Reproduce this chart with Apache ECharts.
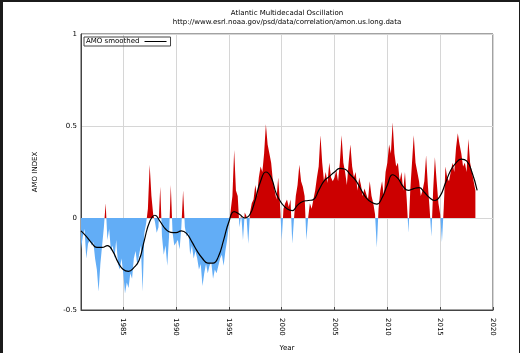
<!DOCTYPE html>
<html>
<head>
<meta charset="utf-8">
<script src="https://cdn.jsdelivr.net/npm/echarts@6/dist/echarts.min.js"></script>
<style>
html, body { margin: 0; padding: 0; background: #fff; }
#chart1 { width: 520px; height: 353px; }
#frame { position: absolute; left: 0; top: 0; width: 516px; height: 351px; border-left: 3px solid #1b1b1b; border-top: 2px solid #1b1b1b; border-right: 1px solid #1b1b1b; pointer-events: none; }
</style>
</head>
<body>
<div id="chart1"></div>
<div id="frame"></div>
<script>
// AMO index every two months (one row per year)
var rawStart = 1981, rawStep = 1 / 6;
var rawAmo = [
    -0.17, -0.10, -0.06, -0.22, -0.14, -0.12,   // 1981
    -0.15, -0.13, -0.22, -0.28, -0.40, -0.25,
    -0.15, -0.05, 0.08, -0.12, -0.06, -0.18,
    -0.15, -0.22, -0.12, -0.25, -0.28, -0.22,
    -0.30, -0.41, -0.35, -0.38, -0.30, -0.33,   // 1985
    -0.22, -0.18, -0.26, -0.20, -0.15, -0.40,
    -0.08, -0.03, 0.05, 0.29, 0.12, 0.02,
    -0.02, -0.08, -0.05, 0.17, -0.10, -0.20,
    -0.15, -0.26, -0.10, 0.18, -0.08, -0.15,
    -0.16, -0.12, -0.17, -0.05, 0.15, -0.05,    // 1990
    -0.10, -0.08, -0.20, -0.15, -0.22, -0.18,
    -0.22, -0.28, -0.25, -0.37, -0.30, -0.25,
    -0.30, -0.26, -0.24, -0.33, -0.28, -0.30,
    -0.30, -0.22, -0.20, -0.26, -0.18, -0.12,
    -0.04, 0.04, 0.12, 0.37, 0.15, 0.12,        // 1995
    -0.05, 0.02, -0.12, 0.03, 0.01, -0.14,
    0.03, 0.08, 0.10, 0.18, 0.12, 0.22,
    0.28, 0.25, 0.35, 0.51, 0.40, 0.35,
    0.30, 0.20, 0.15, 0.10, 0.22, 0.08,
    -0.12, 0.05, 0.08, 0.10, 0.06, 0.10,        // 2000
    -0.14, 0.00, 0.12, 0.18, 0.29, 0.20,
    0.17, 0.12, -0.12, 0.00, 0.08, 0.05,
    0.10, 0.15, 0.22, 0.28, 0.45, 0.30,
    0.20, 0.25, 0.19, 0.30, 0.22, 0.20,
    0.22, 0.26, 0.20, 0.30, 0.45, 0.30,         // 2005
    0.25, 0.18, 0.30, 0.40, 0.28, 0.22,
    0.25, 0.15, 0.22, 0.18, 0.12, 0.16,
    0.15, 0.10, 0.20, 0.12, 0.08, 0.02,
    -0.16, 0.05, 0.15, 0.20, 0.12, 0.25,
    0.30, 0.40, 0.35, 0.52, 0.35, 0.28,         // 2010
    0.30, 0.20, 0.25, 0.15, 0.25, 0.10,
    -0.08, 0.15, 0.30, 0.45, 0.30, 0.25,
    0.20, 0.12, 0.15, 0.20, 0.34, 0.18,
    0.05, -0.10, 0.15, 0.33, 0.20, 0.08,
    0.02, -0.13, 0.05, 0.28, 0.22, 0.20,        // 2015
    0.20, 0.30, 0.25, 0.38, 0.46, 0.40,
    0.35, 0.28, 0.30, 0.25, 0.43, 0.30,
    0.25, 0.20, 0.15
];

// smoothed curve, half-yearly
var smoothStart = 1981, smoothStep = 0.5;
var smoothAmo = [
    -0.07, -0.10, -0.135, -0.16, -0.16, -0.15, -0.18, -0.24,
    -0.28, -0.29, -0.27, -0.23, -0.12, -0.02, 0.015, -0.02,
    -0.06, -0.078, -0.08, -0.07, -0.085, -0.13, -0.18, -0.22,
    -0.245, -0.245, -0.21, -0.12, -0.02, 0.035, 0.02, 0.0,
    0.02, 0.10, 0.20, 0.25, 0.22, 0.13, 0.08, 0.05,
    0.04, 0.07, 0.09, 0.095, 0.10, 0.15, 0.20, 0.225,
    0.25, 0.27, 0.265, 0.235, 0.205, 0.155, 0.11, 0.085,
    0.075, 0.11, 0.18, 0.235, 0.215, 0.17, 0.15, 0.16,
    0.165, 0.14, 0.11, 0.095, 0.12, 0.19, 0.26, 0.30,
    0.32, 0.31, 0.25, 0.15
];

var yearTicks = [1985, 1990, 1995, 2000, 2005, 2010, 2015, 2020];

function pairs(start, step, values) {
    return values.map(function (v, i) { return [start + i * step, v]; });
}

var txt = { fontFamily: 'DejaVu Sans', fontSize: 7, color: '#000' };
var myChart1 = echarts.init(document.getElementById('chart1'));

myChart1.setOption({
    animation: false,
    title: {
        text: 'Atlantic Multidecadal Oscillation',
        subtext: 'http://www.esrl.noaa.gov/psd/data/correlation/amon.us.long.data',
        left: 287,
        textAlign: 'center',
        top: 10,
        itemGap: 2,
        padding: 0,
        textStyle: { fontFamily: 'DejaVu Sans', fontSize: 7, fontWeight: 'normal', color: '#000' },
        subtextStyle: { fontFamily: 'DejaVu Sans', fontSize: 7, color: '#000' }
    },
    legend: {
        data: [{ name: 'AMO smoothed', icon: 'rect', itemStyle: { color: '#000' } }],
        left: 84,
        top: 37,
        align: 'right',
        padding: [1, 4, 1, 2],
        itemWidth: 22,
        itemHeight: 1,
        borderColor: '#444',
        borderWidth: 1,
        borderRadius: 0,
        textStyle: txt
    },
    grid: {
        left: 81, right: 27, top: 34, bottom: 43,
        outerBoundsMode: 'none',
        containLabel: false,
        show: true, borderColor: '#444', borderWidth: 1
    },
    visualMap: {
        show: false,
        seriesIndex: 0,
        dimension: 1,
        pieces: [
            { min: -2, max: 0, color: '#62adf6' },
            { min: 0, max: 2, color: '#cc0000' }
        ]
    },
    xAxis: {
        type: 'value',
        min: 1981,
        max: 2020,
        name: 'Year',
        nameLocation: 'middle',
        nameGap: 35,
        nameTextStyle: txt,
        axisLine: { onZero: false, lineStyle: { color: '#444' } },
        axisTick: { inside: true, length: 3, customValues: yearTicks, lineStyle: { color: '#444' } },
        axisLabel: {
            customValues: yearTicks,
            rotate: -90,
            margin: 8,
            formatter: function (v) { return String(v); },
            fontFamily: 'DejaVu Sans', fontSize: 7, color: '#000'
        },
        splitLine: { show: true, lineStyle: { color: '#d6d6d6', width: 1 } }
    },
    yAxis: {
        type: 'value',
        min: -0.5,
        max: 1,
        interval: 0.5,
        name: 'AMO INDEX',
        nameLocation: 'middle',
        nameGap: 42,
        nameTextStyle: txt,
        axisLine: { show: true, lineStyle: { color: '#444' } },
        axisTick: { show: false },
        axisLabel: { margin: 4, fontFamily: 'DejaVu Sans', fontSize: 7, color: '#000' },
        splitLine: { show: true, lineStyle: { color: '#d6d6d6', width: 1 } }
    },
    series: [
        {
            name: 'AMO',
            type: 'line',
            data: pairs(rawStart, rawStep, rawAmo),
            symbol: 'none',
            lineStyle: { width: 0 },
            areaStyle: { opacity: 1 },
            z: 1
        },
        {
            name: 'AMO smoothed',
            type: 'line',
            data: pairs(smoothStart, smoothStep, smoothAmo),
            smooth: true,
            symbol: 'none',
            color: '#000',
            lineStyle: { color: '#000', width: 1.2 },
            z: 3
        }
    ]
});

window.onresize = function () {
    myChart1.resize();
};
</script>
</body>
</html>
